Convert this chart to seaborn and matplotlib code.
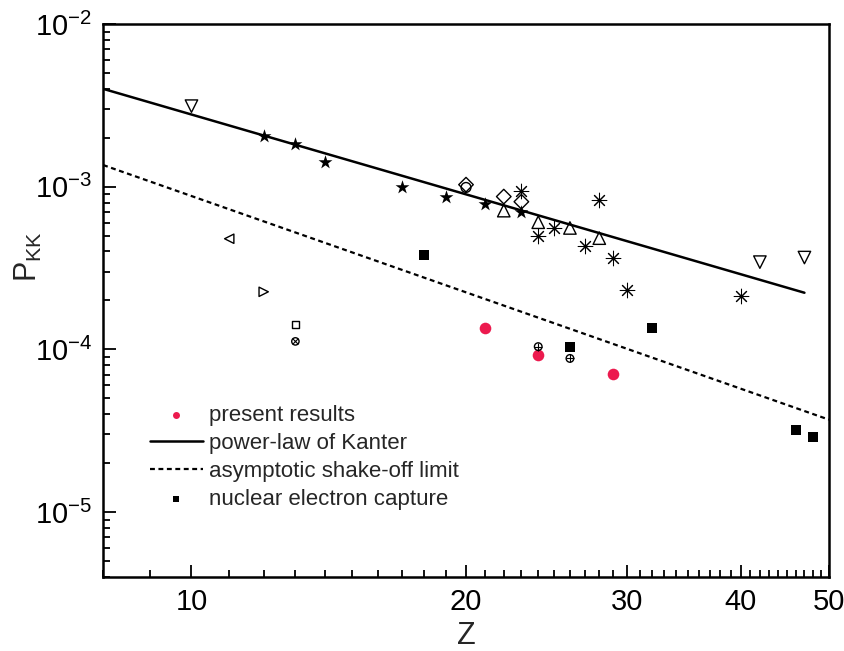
import numpy as np
import pandas as pd
import matplotlib
matplotlib.use("Agg")
import matplotlib.pyplot as plt
import seaborn as sns

# K-shell double ionisation probability vs Z
kanter_z = [8, 47]
kanter_p = [4.0e-3, 2.23e-4]
shakeoff_z = [8, 50]
shakeoff_p = [1.36e-3, 3.7e-5]

present_z = [21, 24, 29]
present_p = [1.36e-4, 9.25e-5, 7.05e-5]

capture_z = [18, 26, 32, 46, 48]
capture_p = [3.79e-4, 1.03e-4, 1.35e-4, 3.21e-5, 2.88e-5]

star_z = [12, 13, 14, 17, 19, 21, 23]
star_p = [2.05e-3, 1.82e-3, 1.42e-3, 9.9e-4, 8.7e-4, 7.8e-4, 6.97e-4]

tri_down_z = [10, 42, 47]
tri_down_p = [3.13e-3, 3.44e-4, 3.67e-4]

tri_up_z = [22, 24, 26, 28]
tri_up_p = [7.13e-4, 6.05e-4, 5.58e-4, 4.83e-4]

diamond_z = [20, 22, 23]
diamond_p = [1.03e-3, 8.7e-4, 8.09e-4]

asterisk_z = [23, 24, 25, 27, 28, 29, 30, 40]
asterisk_p = [9.46e-4, 5.0e-4, 5.58e-4, 4.35e-4, 8.3e-4, 3.65e-4, 2.33e-4, 2.12e-4]

tri_left_z = [11]
tri_left_p = [4.79e-4]
tri_right_z = [12]
tri_right_p = [2.26e-4]

square_z = [13]
square_p = [1.43e-4]
circle_x_z = [13]
circle_x_p = [1.12e-4]
circle_plus_z = [24, 26]
circle_plus_p = [1.04e-4, 8.8e-5]
circle_z = [20]
circle_p = [0.99e-3]

x_major = [10, 20, 30, 40, 50]
x_minor = [z for z in range(8, 51) if z not in x_major]
y_minor = [k * 10.0 ** e for e in range(-6, -2) for k in range(2, 10)]
y_minor = [v for v in y_minor if 4e-6 <= v <= 1e-2]

sns.set_theme(style="ticks")
plt.rcParams['font.family'] = ['Liberation Sans', 'DejaVu Sans']
plt.rcParams['mathtext.default'] = 'regular'

fig, ax = plt.subplots(figsize=(8.45, 6.51), dpi=100)
fig.subplots_adjust(left=0.122, right=0.981, top=0.963, bottom=0.114)

red = '#ec1a4e'


def open_pts(x, y, marker, size, lw=1.0):
    sns.scatterplot(x=x, y=y, marker=marker, s=size, color='black',
                    facecolors='none', edgecolor='black', linewidth=lw, ax=ax)


def line_pts(x, y, marker, size, lw=1.0):
    sns.scatterplot(x=x, y=y, marker=marker, s=size, color='black',
                    linewidth=lw, ax=ax)


# legend entries first
sns.scatterplot(x=present_z, y=present_p, color=red, s=70, edgecolor=red,
                linewidth=0, label='present results', ax=ax)
sns.lineplot(x=kanter_z, y=kanter_p, color='black', lw=1.8,
             label='power-law of Kanter', ax=ax)
sns.lineplot(x=shakeoff_z, y=shakeoff_p, color='black', lw=1.6,
             linestyle=(0, (2.2, 1.6)), label='asymptotic shake-off limit', ax=ax)
sns.scatterplot(x=capture_z, y=capture_p, marker='s', color='black', s=55,
                edgecolor='black', linewidth=0, label='nuclear electron capture', ax=ax)

# other data sets
sns.scatterplot(x=star_z, y=star_p, marker='*', color='black', s=110,
                edgecolor='black', linewidth=0, ax=ax)
open_pts(tri_down_z, tri_down_p, 'v', 80)
open_pts(tri_up_z, tri_up_p, '^', 80)
open_pts(diamond_z, diamond_p, 'D', 55)
open_pts(tri_left_z, tri_left_p, '<', 45)
open_pts(tri_right_z, tri_right_p, '>', 45)
open_pts(square_z, square_p, 's', 25)
open_pts(circle_x_z, circle_x_p, 'o', 28)
line_pts(circle_x_z, circle_x_p, 'x', 18, 0.8)
open_pts(circle_plus_z, circle_plus_p, 'o', 30)
line_pts(circle_plus_z, circle_plus_p, '+', 30, 0.8)
open_pts(circle_z, circle_p, 'o', 50)
line_pts(asterisk_z, asterisk_p, (8, 2, 0), 110, 0.75)

ax.set_xscale('log')
ax.set_yscale('log')
ax.set_xlim(8, 50)
ax.set_ylim(4e-6, 1e-2)

ax.set_xticks(x_major)
ax.set_xticklabels([str(v) for v in x_major])
ax.set_xticks(x_minor, minor=True)
ax.xaxis.set_minor_formatter(matplotlib.ticker.NullFormatter())
ax.set_yticks([1e-5, 1e-4, 1e-3, 1e-2])
ax.set_yticks(y_minor, minor=True)
ax.yaxis.set_major_formatter(matplotlib.ticker.LogFormatterMathtext())
ax.yaxis.set_minor_formatter(matplotlib.ticker.NullFormatter())

ax.tick_params(which='both', direction='in', top=False, right=False,
               left=True, bottom=True, width=1.3, colors='black')
ax.tick_params(which='major', length=9, labelsize=21, pad=8)
ax.tick_params(which='minor', length=5)
for s in ax.spines.values():
    s.set_linewidth(1.8)
    s.set_color('black')

ax.set_xlabel('Z', fontsize=22, labelpad=4)
ax.set_ylabel(r'$P_{KK}$', fontsize=22)
ax.yaxis.set_label_coords(-0.082, 0.58)

leg = ax.legend(loc='lower left', bbox_to_anchor=(0.052, 0.105), frameon=False,
                fontsize=16, handlelength=2.4, handletextpad=0.25,
                labelspacing=0.32, markerscale=0.6, borderaxespad=0)

fig.savefig('out.png', dpi=100, facecolor='white')
